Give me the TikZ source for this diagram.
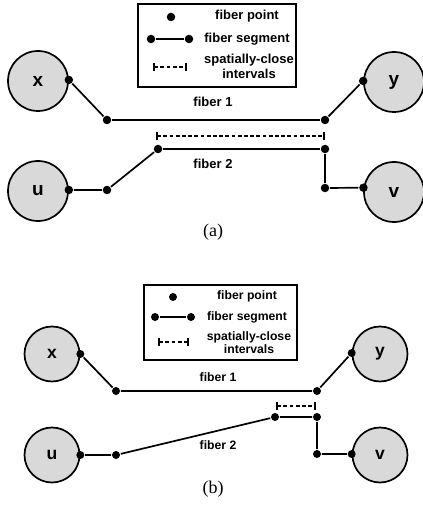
\documentclass[tikz,border=0pt]{standalone}
\usepackage{fontspec}
\setmainfont{Liberation Serif}
\setsansfont{Liberation Sans}
\usetikzlibrary{arrows.meta}
\definecolor{vertexGray}{HTML}{D9D9D9}

\begin{document}
\begin{tikzpicture}[
    x=1pt,y=-1pt,
    line width=1.7pt,
    vtx/.style={circle,draw,fill=vertexGray,minimum size=60pt,inner sep=0pt,
      font=\sffamily\bfseries\fontsize{19}{19}\selectfont},
    vtxb/.style={vtx,minimum size=55pt,font=\sffamily\bfseries\fontsize{17.5}{17.5}\selectfont},
    fpt/.style={circle,fill,inner sep=0pt,minimum size=8.5pt},
    fptb/.style={fpt,minimum size=8pt},
    lbl/.style={font=\sffamily\bfseries\fontsize{13}{14.5}\selectfont,align=center,inner sep=0pt},
    lblb/.style={lbl,font=\sffamily\bfseries\fontsize{12.2}{13.5}\selectfont},
    legbox/.style={draw,inner sep=0pt},
    closeint/.style={dash pattern=on 3.8pt off 2.4pt,
      {Bar[width=8pt,line width=1.7pt]}-{Bar[width=8pt,line width=1.7pt]}},
    caption/.style={font=\fontsize{18}{18}\selectfont}
  ]
    \useasboundingbox (0,0) rectangle (422,518);

    % (a)
    \node[legbox,minimum width=158pt,minimum height=83pt] (lga) at (217,45.5) {};
    \node[fpt] (lpa) at (171,17) {};
    \node[lbl] (lpta) at (247,16) {fiber point};
    \node[fpt] (lsa1) at (151,39) {};
    \node[fpt] (lsa2) at (189,39) {};
    \draw (lsa1)--(lsa2);
    \node[lbl] (lsta) at (247,39) {fiber segment};
    \coordinate (lia1) at (153,67);
    \coordinate (lia2) at (187,67);
    \draw[closeint] (lia1)--(lia2);
    \node[lbl] (lita) at (249,66.5) {spatially-close\\intervals};

    \node[vtx] (xa) at (38,81) {x};
    \node[vtx] (ya) at (394,82) {y};
    \node[vtx] (ua) at (38,191) {u};
    \node[vtx] (va) at (394,192) {v};

    \node[fpt] (a1) at (xa.2) {};
    \node[fpt] (a2) at (107,120) {};
    \node[fpt] (a3) at (325,120) {};
    \node[fpt] (a4) at (ya.178) {};
    \draw (a1)--(a2)--(a3)--(a4);
    \node[lbl] (f1a) at (213,102) {fiber 1};

    \coordinate (ia1) at (156,136);
    \coordinate (ia2) at (325,136);
    \draw[closeint] (ia1)--(ia2);

    \node[fpt] (b1) at (ua.2) {};
    \node[fpt] (b2) at (107,190) {};
    \node[fpt] (b3) at (158,149) {};
    \node[fpt] (b4) at (325,149) {};
    \node[fpt] (b5) at (325,188) {};
    \node[fpt] (b6) at (va.172) {};
    \draw (b1)--(b2)--(b3)--(b4)--(b5)--(b6);
    \node[lbl] (f2a) at (213,164) {fiber 2};

    \node[caption] (capa) at (213,232) {(a)};

    % (b)
    \node[legbox,minimum width=153pt,minimum height=75pt] (lgb) at (220.5,322.5) {};
    \node[fptb] (lpb) at (173,297) {};
    \node[lblb] (lptb) at (247,296.5) {fiber point};
    \node[fptb] (lsb1) at (155,317) {};
    \node[fptb] (lsb2) at (191,317) {};
    \draw (lsb1)--(lsb2);
    \node[lblb] (lstb) at (247,317) {fiber segment};
    \coordinate (lib1) at (158,342);
    \coordinate (lib2) at (189,342);
    \draw[closeint] (lib1)--(lib2);
    \node[lblb] (litb) at (249,342.5) {spatially-close\\intervals};

    \node[vtxb] (xb) at (52,354) {x};
    \node[vtxb] (yb) at (380,354) {y};
    \node[vtxb] (ub) at (52,455) {u};
    \node[vtxb] (vb) at (380,455) {v};

    \node[fptb] (c1) at (xb.east) {};
    \node[fptb] (c2) at (116,391) {};
    \node[fptb] (c3) at (317,391) {};
    \node[fptb] (c4) at (yb.178) {};
    \draw (c1)--(c2)--(c3)--(c4);
    \node[lblb] (f1b) at (218,377) {fiber 1};

    \coordinate (ib1) at (276,406);
    \coordinate (ib2) at (316,406);
    \draw[closeint] (ib1)--(ib2);

    \node[fptb] (d1) at (ub.east) {};
    \node[fptb] (d2) at (116,455) {};
    \node[fptb] (d3) at (275,417) {};
    \node[fptb] (d4) at (317,417) {};
    \node[fptb] (d5) at (317,454) {};
    \node[fptb] (d6) at (vb.178) {};
    \draw (d1)--(d2)--(d3)--(d4)--(d5)--(d6);
    \node[lblb] (f2b) at (218,445) {fiber 2};

    \node[caption] (capb) at (213,489) {(b)};
  \end{tikzpicture}
\end{document}
